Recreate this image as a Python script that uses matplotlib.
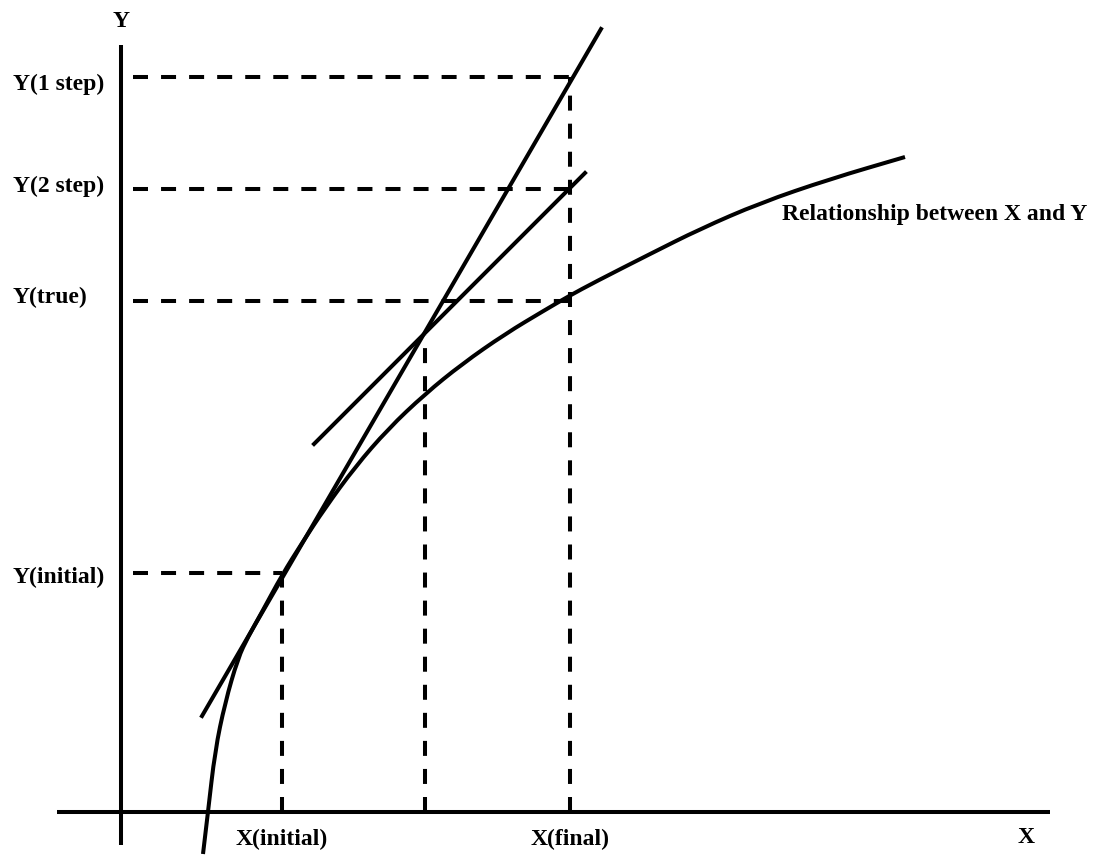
import numpy as np
import matplotlib
matplotlib.use('Agg')
from matplotlib import pyplot as plt
from matplotlib.path import Path
from matplotlib.patches import PathPatch

# diagram units: origin where the two axes cross, y upward
x_initial = 161
x_mid = 304
x_final = 449

y_initial = 239
y_true = 511
y_2step = 623
y_1step = 735

# relationship between X and Y
curve_x = [82, 87, 94, 104, 117, 127, 141, 161, 181, 204, 234, 267, 304, 341, 384, 424, 448, 474, 529, 579, 639, 709, 784]
curve_y = [-42, 0, 61, 109, 154, 175, 200, 237, 269, 304, 345, 383, 418, 448, 478, 502, 516, 530, 558, 583, 609, 633, 655]

# one step tangent (slope at initial point)
step1_x = [81, 480]
step1_y = [96, 783]

# two step tangent (slope at mid point)
step2_x = [193, 464]
step2_y = [368, 639]

y_labels = ['Y(1 step)', 'Y(2 step)', 'Y(true)', 'Y(initial)']
y_levels = [y_1step, y_2step, y_true, y_initial]
y_label_base = [722, 620, 509, 229]

x_labels = ['X(initial)', 'X(final)']
x_levels = [x_initial, x_final]

LW = 2.9
DASH = (10.8, 9.4)

plt.rcParams['font.family'] = ['Liberation Serif', 'DejaVu Serif']
plt.rcParams['font.weight'] = 'bold'
plt.rcParams['lines.scale_dashes'] = False


def smooth_path(xs, ys):
    # quadratic bezier through midpoints, read points act as controls
    pts = np.column_stack([xs, ys]).astype(float)
    verts = [pts[0]]
    codes = [Path.MOVETO]
    for i in range(1, len(pts) - 1):
        verts += [pts[i], (pts[i] + pts[i + 1]) / 2]
        codes += [Path.CURVE3, Path.CURVE3]
    verts.append(pts[-1])
    codes.append(Path.LINETO)
    return Path(verts, codes)


fig = plt.figure(figsize=(11.06, 8.58), dpi=100)
ax = fig.add_axes([0, 0, 1, 1])
ax.set_xlim(-121, 985)
ax.set_ylim(-46, 812)
ax.axis('off')

# axes
ax.plot([-64, 929], [0, 0], color='black', lw=LW, solid_capstyle='butt')
ax.plot([0, 0], [-33, 767], color='black', lw=LW, solid_capstyle='butt')
ax.text(0, 785, 'Y', ha='center', va='baseline', fontsize=17)
ax.text(905, -31, 'X', ha='center', va='baseline', fontsize=17)

# dashed guides
for lvl in y_levels[:3]:
    ax.plot([12, x_final], [lvl, lvl], color='black', lw=LW, dashes=DASH)
ax.plot([12, x_initial], [y_initial, y_initial], color='black', lw=LW, dashes=DASH)

ax.plot([x_initial, x_initial], [0, y_initial], color='black', lw=LW, dashes=DASH)
ax.plot([x_mid, x_mid], [0, 477], color='black', lw=LW, dashes=DASH)
ax.plot([x_final, x_final], [0, y_1step], color='black', lw=LW, dashes=DASH)

# tangents and curve
ax.plot(step1_x, step1_y, color='black', lw=LW)
ax.plot(step2_x, step2_y, color='black', lw=LW)
ax.add_patch(PathPatch(smooth_path(curve_x, curve_y), facecolor='none',
                       edgecolor='black', lw=LW, capstyle='butt'))

for lab, base in zip(y_labels, y_label_base):
    ax.text(-108, base, lab, ha='left', va='baseline', fontsize=17)
for lab, xv in zip(x_labels, x_levels):
    ax.text(xv, -33, lab, ha='center', va='baseline', fontsize=17)

ax.text(661, 592, 'Relationship between X and Y', ha='left', va='baseline', fontsize=17)

plt.savefig('out.png', dpi=100)
